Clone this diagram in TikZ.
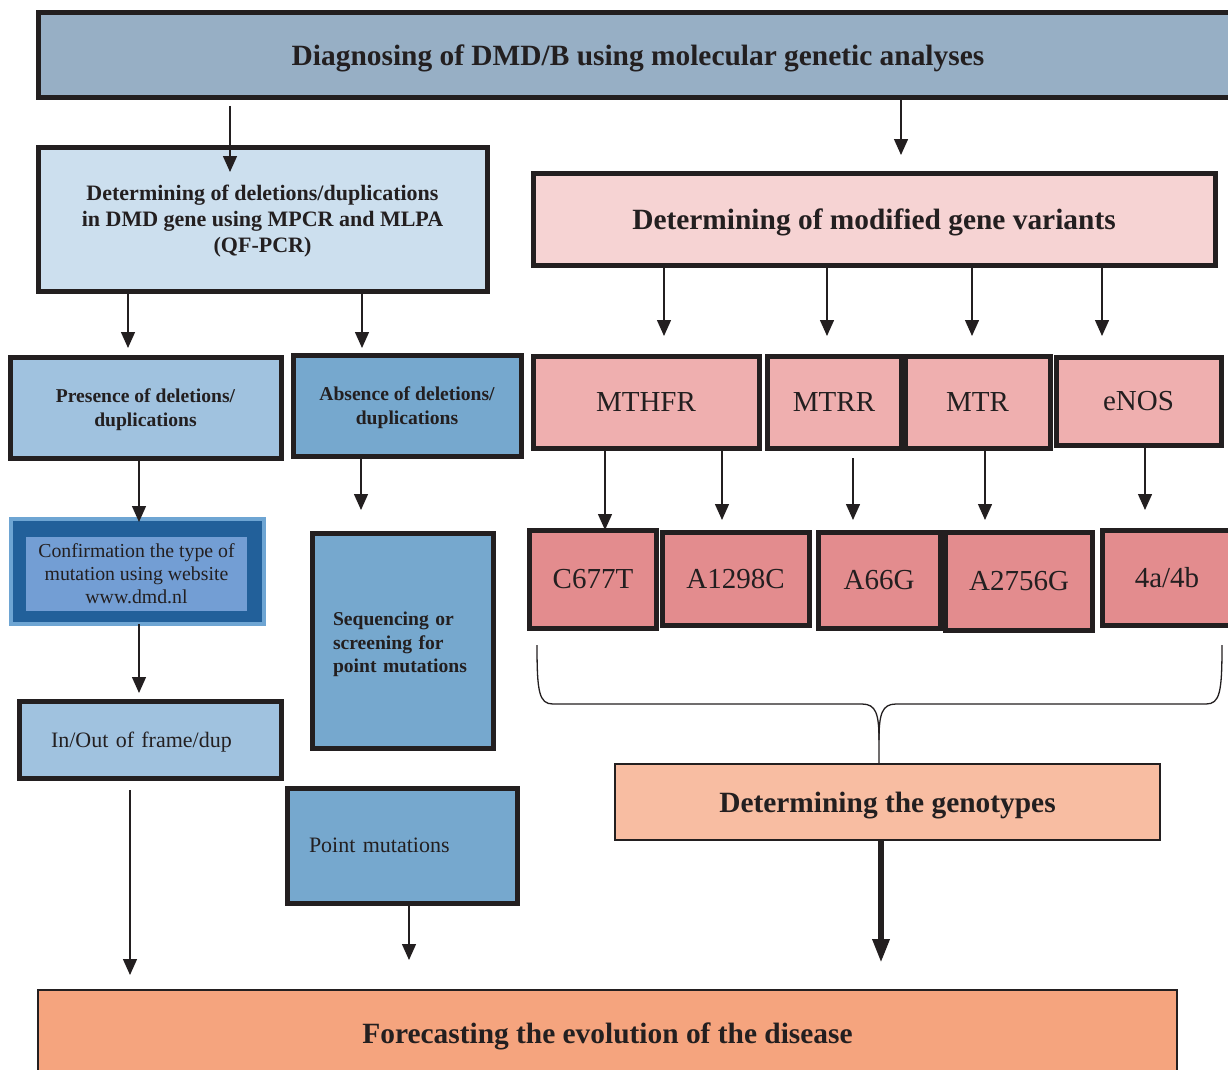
\documentclass[tikz,border=0pt]{standalone}
\usepackage{fontspec}
\setmainfont{Liberation Serif}
\usetikzlibrary{arrows.meta}

\definecolor{ink}{HTML}{231F20}
\definecolor{cTop}{HTML}{97AFC5}
\definecolor{cDel}{HTML}{CCDFEE}
\definecolor{cMod}{HTML}{F6D3D3}
\definecolor{cPale}{HTML}{A0C2DF}
\definecolor{cMid}{HTML}{76A8CE}
\definecolor{cGene}{HTML}{EFAFAF}
\definecolor{cVar}{HTML}{E38C8E}
\definecolor{cRim}{HTML}{6EA5D3}
\definecolor{cBand}{HTML}{22609A}
\definecolor{cCore}{HTML}{739ED4}
\definecolor{cGeno}{HTML}{F8BDA2}
\definecolor{cEnd}{HTML}{F5A47E}

\begin{document}
\begin{tikzpicture}[x=1pt,y=-1pt,
  box/.style={draw=ink, line width=5pt, inner sep=0pt, outer sep=0pt, align=center, text=ink, text depth=0pt},
  thinbox/.style={draw=ink, line width=2pt, inner sep=0pt, outer sep=0pt, align=center, text=ink, text depth=0pt},
  bigbold/.style={font=\fontsize{29.4}{34}\selectfont\bfseries},
  midbold/.style={font=\fontsize{22}{26}\selectfont\bfseries},
  smallbold/.style={font=\fontsize{19.6}{23.5}\selectfont\bfseries},
  genetxt/.style={font=\fontsize{29}{34}\selectfont},
  plain/.style={font=\fontsize{22}{26}\selectfont},
  smallplain/.style={font=\fontsize{19.8}{23}\selectfont},
  arr/.style={draw=ink, line width=1.4pt, -{Triangle[width=14pt,length=16pt]}},
  bigarr/.style={draw=ink, line width=6pt, -{Triangle[width=16pt,length=24pt]}},
  brace/.style={draw=ink, line width=1.3pt}
]
\useasboundingbox (0,0) rectangle (1228,1070);

% header
\node[box, bigbold, fill=cTop, minimum width=1200, minimum height=85] (top) at (638,55.5)
  {Diagnosing of DMD/B using molecular genetic analyses};

% left branch
\node[box, midbold, fill=cDel, minimum width=449, minimum height=144] (deld) at (262.5,219)
  {Determining of deletions/duplications\\in DMD gene using MPCR and MLPA\\(QF-PCR)};
\node[box, smallbold, fill=cPale, minimum width=271, minimum height=101] (pres) at (145.5,407.5)
  {Presence of deletions/\\duplications};
\node[box, smallbold, fill=cMid, minimum width=228, minimum height=101] (abs) at (407,405.5)
  {Absence of deletions/\\duplications};
\node[draw=cRim, line width=4pt, fill=cBand, inner sep=0pt, outer sep=0pt,
  minimum width=253, minimum height=105] (conf) at (137.5,571.5) {};
\node[fill=cCore, inner sep=0pt, outer sep=0pt, align=center, text=ink, smallplain,
  minimum width=221, minimum height=74] (confin) at (136.5,573.5)
  {Confirmation the type of\\mutation using website\\www.dmd.nl};
\node[box, smallbold, fill=cMid, minimum width=181, minimum height=215,
  text width=139, align=left, text depth=43.3pt] (seq) at (402.5,640.5)
  {Sequencing or\\screening for\\point mutations};
\node[box, plain, fill=cPale, minimum width=262, minimum height=77,
  text width=198, align=left] (inout) at (150,739.5) {In/Out of frame/dup};
\node[box, plain, fill=cMid, minimum width=230, minimum height=115,
  text width=186, align=left] (point) at (402,845.5) {Point mutations};

% right branch
\node[box, bigbold, fill=cMod, minimum width=682, minimum height=92] (modv) at (874,219)
  {Determining of modified gene variants};
\node[box, genetxt, fill=cGene, minimum width=226, minimum height=92] (mthfr) at (646,402) {MTHFR};
\node[box, genetxt, fill=cGene, minimum width=134, minimum height=92] (mtrr) at (834,402) {MTRR};
\node[box, genetxt, fill=cGene, minimum width=145, minimum height=92] (mtr) at (977.5,402) {MTR};
\node[box, genetxt, fill=cGene, minimum width=165, minimum height=88] (enos) at (1138.5,401) {eNOS};

\node[box, genetxt, fill=cVar, minimum width=127, minimum height=98] (c677) at (593,579) {C677T};
\node[box, genetxt, fill=cVar, minimum width=147, minimum height=93] (a1298) at (735.5,578.5) {A1298C};
\node[box, genetxt, fill=cVar, minimum width=122, minimum height=96] (a66) at (879,580) {A66G};
\node[box, genetxt, fill=cVar, minimum width=147, minimum height=98] (a2756) at (1019,581) {A2756G};
\node[box, genetxt, fill=cVar, minimum width=130, minimum height=95] (ab) at (1167,577.5) {4a/4b};

\node[thinbox, bigbold, fill=cGeno, minimum width=545, minimum height=76] (geno) at (887.5,802)
  {Determining the genotypes};
\node[thinbox, bigbold, fill=cEnd, minimum width=1139, minimum height=86] (fore) at (607.5,1033)
  {Forecasting the evolution of the disease};

% connectors
\draw[arr] ([yshift=-8pt]top.south -| 230,0) -- ([yshift=-25pt]deld.north -| 230,0);
\draw[arr] (top.south -| 901,0) -- ([yshift=18pt]modv.north -| 901,0);
\draw[arr] (deld.south -| 128,0) -- ([yshift=9pt]pres.north -| 128,0);
\draw[arr] (deld.south -| 362,0) -- ([yshift=7pt]abs.north -| 362,0);
\draw[arr] (modv.south -| 664,0) -- ([yshift=20pt]mthfr.north -| 664,0);
\draw[arr] (modv.south -| 827,0) -- ([yshift=20pt]mtrr.north -| 827,0);
\draw[arr] (modv.south -| 972,0) -- ([yshift=20pt]mtr.north -| 972,0);
\draw[arr] (modv.south -| 1102,0) -- ([yshift=21pt]enos.north -| 1102,0);
\draw[arr] (pres.south -| 139,0) -- ([yshift=-3pt]conf.north -| 139,0);
\draw[arr] (abs.south -| 361,0) -- ([yshift=23pt]seq.north -| 361,0);
\draw[arr] (mthfr.south -| 605,0) -- (c677.north -| 605,0);
\draw[arr] (mthfr.south -| 722,0) -- ([yshift=12pt]a1298.north -| 722,0);
\draw[arr] ([yshift=-10pt]mtrr.south -| 853,0) -- ([yshift=12pt]a66.north -| 853,0);
\draw[arr] (mtr.south -| 985,0) -- ([yshift=12pt]a2756.north -| 985,0);
\draw[arr] (enos.south -| 1145,0) -- ([yshift=20pt]ab.north -| 1145,0);
\draw[arr] (conf.south -| 139,0) -- ([yshift=8pt]inout.north -| 139,0);
\draw[arr] ([yshift=-12pt]inout.south -| 130,0) -- ([yshift=15pt]fore.north -| 130,0);
\draw[arr] (point.south -| 409,0) -- ([yshift=30pt]fore.north -| 409,0);
\draw[bigarr] (geno.south -| 881,0) -- ([yshift=27pt]fore.north -| 881,0);

% brace gathering the variants
\draw[brace] (537,645) .. controls (537,692) and (539,704) .. (553,704) -- (862,704)
  .. controls (876,704) and (879,714) .. (879,740) -- (geno.north -| 879,0);
\draw[brace] (1222,645) .. controls (1222,692) and (1220,704) .. (1206,704) -- (896,704)
  .. controls (882,704) and (879,714) .. (879,740);
\end{tikzpicture}
\end{document}
